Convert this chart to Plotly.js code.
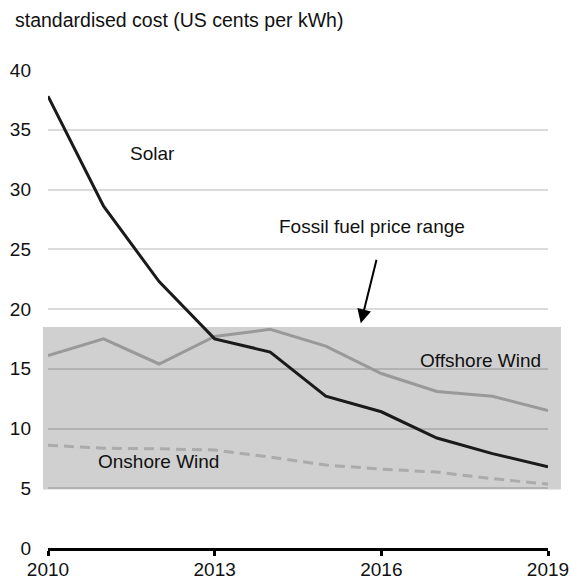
<!DOCTYPE html>
<html>
<head>
<meta charset="utf-8">
<script src="https://cdn.plot.ly/plotly-3.0.1.min.js"></script>
<style>html,body{margin:0;padding:0;background:#fff;}#chart{width:571px;height:580px;}</style>
</head>
<body>
<div id="chart"></div>
<script>
// ---- data ----
const years = [2010, 2011, 2012, 2013, 2014, 2015, 2016, 2017, 2018, 2019];
const solar = [37.8, 28.6, 22.3, 17.5, 16.4, 12.7, 11.4, 9.2, 7.9, 6.8];
const offshoreWind = [16.1, 17.5, 15.4, 17.7, 18.3, 16.9, 14.6, 13.1, 12.7, 11.5];
const onshoreWind = [8.6, 8.35, 8.3, 8.2, 7.6, 6.95, 6.6, 6.35, 5.8, 5.35];
const fossilRange = [4.9, 18.5];   // low, high (US cents per kWh)
const xTicks = [2010, 2013, 2016, 2019];
const yTicks = [0, 5, 10, 15, 20, 25, 30, 35, 40];

const FONT = 'Liberation Sans, Arial, sans-serif';
const FS = 19;

const traces = [
  {x: years, y: onshoreWind, mode: 'lines', name: 'Onshore Wind',
   line: {color: '#ababab', width: 3, dash: '10px,6px'}, hoverinfo: 'skip'},
  {x: years, y: offshoreWind, mode: 'lines', name: 'Offshore Wind',
   line: {color: '#999999', width: 3}, hoverinfo: 'skip'},
  {x: years, y: solar, mode: 'lines', name: 'Solar',
   line: {color: '#1a1a1a', width: 3}, hoverinfo: 'skip'}
];

const layout = {
  width: 571, height: 580,
  margin: {l: 48, r: 23, t: 70, b: 32, pad: 0},
  paper_bgcolor: '#ffffff',
  plot_bgcolor: 'rgba(0,0,0,0)',
  showlegend: false,
  font: {family: FONT, size: FS, color: '#111'},
  title: {
    text: 'standardised cost (US cents per kWh)',
    font: {family: FONT, size: 19.5, color: '#111'},
    xref: 'container', x: 15/571, xanchor: 'left',
    yref: 'container', y: 1 - 20/580, yanchor: 'middle'
  },
  xaxis: {
    range: [years[0], years[years.length - 1]],
    tickvals: xTicks, ticktext: xTicks.map(String),
    showgrid: false, zeroline: false,
    showline: true, linecolor: '#000', linewidth: 3,
    ticks: 'outside', ticklen: 5, tickwidth: 3, tickcolor: '#000',
    ticklabelstandoff: -3,
    tickfont: {family: FONT, size: FS, color: '#111'},
    fixedrange: true
  },
  yaxis: {
    range: [0, 40],
    tickvals: yTicks, ticktext: yTicks.map(String),
    showgrid: true, gridcolor: 'rgba(0,0,0,0.14)', gridwidth: 2,
    zeroline: false, showline: false, ticks: '',
    ticklabelstandoff: 16,
    tickfont: {family: FONT, size: FS, color: '#111'},
    fixedrange: true
  },
  shapes: [{
    type: 'rect', layer: 'below',
    xref: 'paper', x0: -0.01, x1: 1.026,
    yref: 'y', y0: fossilRange[0], y1: fossilRange[1],
    fillcolor: '#d0d0d0', line: {width: 0}
  }],
  annotations: [
    {text: 'Solar', x: 2011.88, y: 33.0, xref: 'x', yref: 'y', showarrow: false,
     font: {family: FONT, size: FS, color: '#111'}},
    {text: 'Fossil fuel price range', x: 2015.83, y: 26.9, xref: 'x', yref: 'y', showarrow: false,
     font: {family: FONT, size: FS, color: '#111'}},
    {text: '', x: 2015.63, y: 18.8, xref: 'x', yref: 'y',
     ax: 2015.92, ay: 24.24, axref: 'x', ayref: 'y',
     showarrow: true, arrowhead: 2, arrowsize: 1.4, arrowwidth: 2, arrowcolor: '#000'},
    {text: 'Offshore Wind', x: 2017.79, y: 15.73, xref: 'x', yref: 'y', showarrow: false,
     font: {family: FONT, size: FS, color: '#111'}},
    {text: 'Onshore Wind', x: 2011.98, y: 7.22, xref: 'x', yref: 'y', showarrow: false,
     font: {family: FONT, size: FS, color: '#111'}}
  ]
};

Plotly.newPlot('chart', traces, layout, {staticPlot: true, displayModeBar: false});
</script>
</body>
</html>
